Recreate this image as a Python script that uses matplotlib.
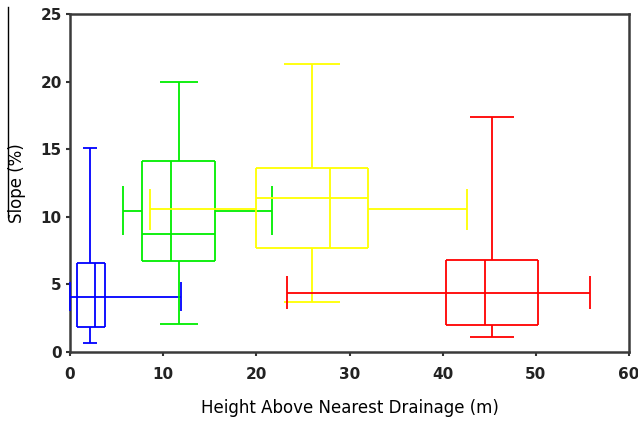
import matplotlib
matplotlib.use("Agg")
import matplotlib.pyplot as plt
from matplotlib.lines import Line2D

# 2-D box plots: HAND (x) vs slope (y) for four classes
colors = ["#0000ff", "#00ee00", "#ffff00", "#ff0000"]

hand_q1 = [0.7, 7.7, 20.0, 40.4]
hand_med = [2.7, 10.8, 27.9, 44.5]
hand_q3 = [3.8, 15.6, 32.0, 50.2]
hand_lo = [0.0, 5.7, 8.6, 23.3]
hand_hi = [11.9, 21.7, 42.6, 55.8]
hand_mean = [2.15, 11.7, 26.0, 45.3]

slope_q1 = [1.85, 6.7, 7.7, 2.0]
slope_med = [4.1, 8.7, 11.4, 4.4]
slope_q3 = [6.6, 14.1, 13.6, 6.8]
slope_lo = [0.7, 2.1, 3.7, 1.1]
slope_hi = [15.1, 20.0, 21.3, 17.4]
slope_mean = [4.1, 10.45, 10.55, 4.4]

xticks = [0, 10, 20, 30, 40, 50, 60]
yticks = [0, 5, 10, 15, 20, 25]

# cap half-lengths (data units)
cap_x = [0.75, 2.0, 3.0, 2.4]
cap_y = [1.1, 1.8, 1.5, 1.2]

fig = plt.figure(figsize=(6.38, 4.23), dpi=100)
ax = fig.add_axes([70 / 638, 1 - 352 / 423, 559 / 638, 338 / 423])

lw = 1.3
for i, c in enumerate(colors):
    kw = dict(colors=c, linewidth=lw, clip_on=False, zorder=3 + i)
    # box
    ax.hlines([slope_q1[i], slope_q3[i]], hand_q1[i], hand_q3[i], **kw)
    ax.vlines([hand_q1[i], hand_q3[i]], slope_q1[i], slope_q3[i], **kw)
    # medians
    ax.hlines(slope_med[i], hand_q1[i], hand_q3[i], **kw)
    ax.vlines(hand_med[i], slope_q1[i], slope_q3[i], **kw)
    # vertical whiskers
    ax.vlines(hand_mean[i], slope_q3[i], slope_hi[i], **kw)
    ax.vlines(hand_mean[i], slope_lo[i], slope_q1[i], **kw)
    ax.hlines([slope_lo[i], slope_hi[i]], hand_mean[i] - cap_x[i], hand_mean[i] + cap_x[i], **kw)
    # horizontal whiskers
    ax.hlines(slope_mean[i], hand_lo[i], hand_q1[i], **kw)
    ax.hlines(slope_mean[i], hand_q3[i], hand_hi[i], **kw)
    ax.vlines([hand_lo[i], hand_hi[i]], slope_mean[i] - cap_y[i], slope_mean[i] + cap_y[i], **kw)

ax.set_xlim(0, 60)
ax.set_ylim(0, 25)
ax.set_xticks(xticks)
ax.set_yticks(yticks)
ax.tick_params(direction="out", length=3, width=1.5, color="#333333", labelsize=11)
ax.tick_params(axis="x", pad=8)
ax.tick_params(axis="y", pad=3)
for lab in ax.get_xticklabels() + ax.get_yticklabels():
    lab.set_fontweight("bold")
    lab.set_color("#222222")
for s in ax.spines.values():
    s.set_linewidth(1.8)
    s.set_color("#3a3a3a")

ax.set_xlabel("Height Above Nearest Drainage (m)", fontsize=12, labelpad=12)
ax.set_ylabel("Slope (%)", fontsize=12, labelpad=10)

# stray border line at the left edge of the original image
fig.add_artist(Line2D([8 / 638, 8 / 638], [1 - 7 / 423, 1 - 217 / 423],
                      color="black", linewidth=1))

fig.savefig("out.png", dpi=100)
